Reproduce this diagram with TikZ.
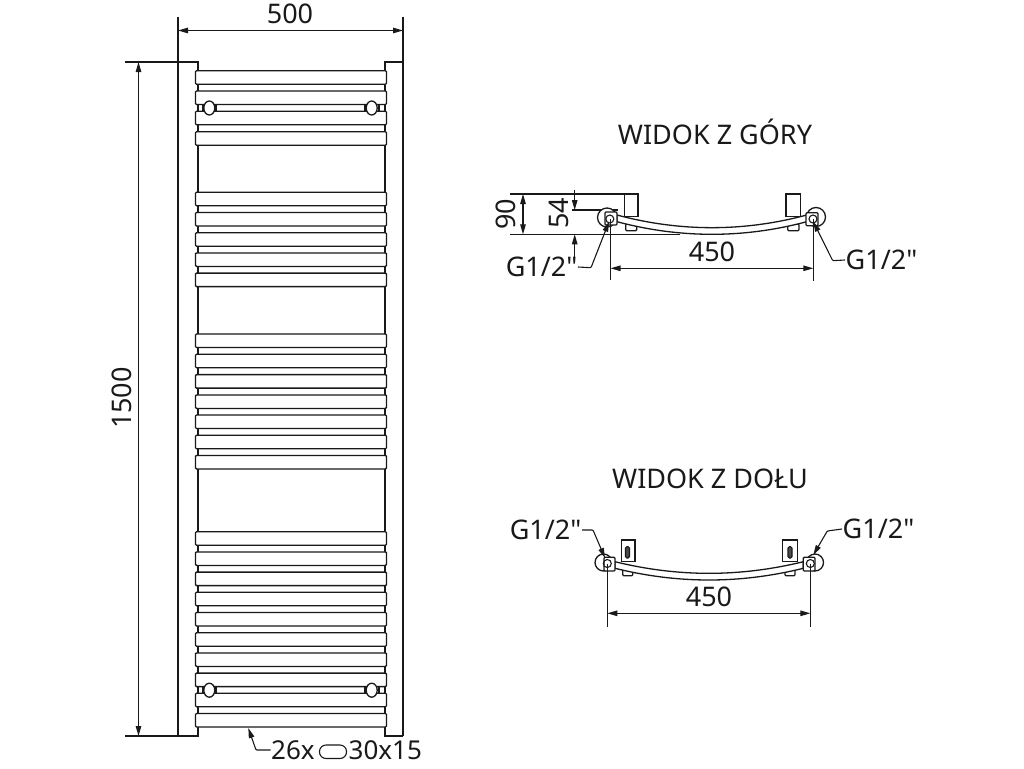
\documentclass[tikz,border=0pt]{standalone}
\usepackage{fontspec}
\newfontfamily\lblfont{Noto Sans}
\usetikzlibrary{arrows.meta}

\begin{document}
\begin{tikzpicture}[
                x=1pt, y=-1pt,
                line width=1.3pt,
                color=black!90,
                >={Stealth[length=10pt,width=5.5pt,inset=0pt]},
                dim/.style={<->, line width=1.1pt},
                ext/.style={line width=1.1pt},
                lead/.style={<-, line width=1.1pt, rounded corners=1pt},
                bar/.style={draw, fill=white, rounded corners=1pt},
                lbl/.style={inner sep=0pt, font=\lblfont\fontsize{27}{32}\selectfont},
                sizelbl/.style={inner sep=0pt, font=\lblfont\fontsize{26}{31}\selectfont}
            ]
            \useasboundingbox (0,0) rectangle (1024,768);

            % frame and rails
            \draw (125,62) -- (198,62) -- (198,736) -- (125,736);
            \draw (403,62) -- (385,62) -- (385,736) -- (403,736);
            \draw (178,17) -- (178,736);
            \draw (403,17) -- (403,736);

            % 26 bars
            \foreach \t in {70.7,91,111.3,131.7,
                            192.3,212.5,232.7,252.9,273.1,
                            334,354.3,374.6,394.9,415,435.2,455.4,
                            531.7,551.9,572.1,592.3,612.5,632.7,652.9,673.1,693.3,713.5}
                \draw[bar] (195.5,\t) rectangle (386.5,\t+13.5);

            % towel rods
            \foreach \y in {108, 690.2} {
                \draw[line width=2pt] (202.5,\y-3) -- (202.5,\y+3);
                \draw[line width=2pt] (379,\y-3) -- (379,\y+3);
                \draw[line width=2.2pt] (216,\y-3) -- (216,\y+3);
                \draw[line width=2.2pt] (365,\y-3) -- (365,\y+3);
                \draw[fill=white] (209.3,\y) ellipse (5.5 and 7);
                \draw[fill=white] (371.7,\y) ellipse (5.5 and 7);
            }

            % main dimensions
            \node[lbl] (width) at (290,14) {500};
            \node[lbl, rotate=90] (height) at (122,398) {1500};
            \coordinate (wl) at (178,30.5);
            \coordinate (wr) at (403,30.5);
            \coordinate (ht) at (138.5,62);
            \coordinate (hb) at (138.5,736);
            \draw[dim] (wl) -- (wr);
            \draw[dim] (ht) -- (hb);

            % bar size
            \node[sizelbl, anchor=west] (count) at (270.5,750) {26x};
            \node[sizelbl, anchor=west] (size) at (348,750) {30x15};
            \draw[rounded corners=6.5pt, line width=1.1pt] (319.5,745) rectangle (346.5,758.5);
            \coordinate (bartip) at (248.3,728);
            \draw[lead] (bartip) -- (256,750) -- (count.west);

            % view from above
            \node[lbl] (top) at (715,132) {WIDOK Z GÓRY};
            \coordinate (tl) at (610.5,268.3);
            \coordinate (tr) at (813.3,268.3);
            \node[lbl] (t450) at (712,252) {450};
            \node[lbl, rotate=90] (t90) at (506,214) {90};
            \node[lbl, rotate=90] (t54) at (559,213) {54};
            \node[lbl, anchor=east] (tgl) at (578,267) {G1/2"};
            \node[lbl, anchor=west] (tgr) at (845,260) {G1/2"};

            \draw[ext] (510,194) -- (638,194);
            \draw[ext] (510,234.3) -- (680,234.3);
            \draw[ext] (572,210) -- (618,210);
            \draw[fill=white] (624.3,194) rectangle (638,216.7);
            \draw[fill=white] (786,194) rectangle (800.7,216.7);
            \draw[fill=white, rounded corners=1pt] (625.7,224) rectangle (636.7,230.7);
            \draw[fill=white, rounded corners=1pt] (787.7,224) rectangle (799,230.7);
            \draw[fill=white] (617,215) .. controls (680,231.9) and (744,231.9) .. (806.7,215)
                -- (806.7,221.7) .. controls (744,238.5) and (680,238.5) .. (617,221.7) -- cycle;
            \draw[fill=white] (607,217.5) circle (9.5);
            \draw[fill=white] (816,217) circle (9.5);
            \draw[fill=white, rounded corners=1pt] (605,212) rectangle (617,225);
            \draw[fill=white, rounded corners=1pt] (806,212.7) rectangle (818,225.7);
            \draw[ext] (609.8,219) circle (4);
            \draw[ext] (813,219) circle (4);

            \coordinate (d90a) at (523,194);
            \coordinate (d90b) at (523,234.3);
            \coordinate (d54a) at (574.7,210);
            \coordinate (d54b) at (574.7,234.3);
            \draw[dim] (d90a) -- (d90b);
            \draw[ext, ->] (574.7,190) -- (d54a);
            \draw[ext, ->] (574.7,258) -- (d54b);
            \draw[ext] (610.5,219) -- (610.5,280);
            \draw[ext] (813.3,219) -- (813.3,281);
            \draw[dim] (tl) -- (tr);
            \draw[lead] (609,221.7) -- (591,267.7) -- (tgl.east);
            \draw[lead] (813.3,221.7) -- (832.7,260.7) -- (tgr.west);

            % view from below
            \node[lbl] (bottom) at (710,479) {WIDOK Z DOŁU};
            \coordinate (bl) at (607.3,613.3);
            \coordinate (br) at (810.3,613.3);
            \node[lbl] (b450) at (709,597) {450};
            \node[lbl, anchor=east] (bgl) at (582,530) {G1/2"};
            \node[lbl, anchor=west] (bgr) at (842,529) {G1/2"};

            \draw[fill=white] (621.7,540) rectangle (635,561.7);
            \draw[fill=white] (782.7,540) rectangle (797.3,561.7);
            \draw[ext, fill=black!70, rounded corners=1.5pt] (625.5,546.7) rectangle (629.5,558);
            \draw[ext, fill=black!70, rounded corners=1.5pt] (788,546.7) rectangle (792,558);
            \draw[fill=white, rounded corners=1pt] (622.7,569) rectangle (632.7,575.7);
            \draw[fill=white, rounded corners=1pt] (785,569) rectangle (795,575.7);
            \draw[fill=white] (615,561.7) .. controls (678,577.2) and (740,577.2) .. (803.3,561.7)
                -- (803.3,568.3) .. controls (740,583.9) and (678,583.9) .. (615,568.3) -- cycle;
            \draw[fill=white] (603.5,562.5) circle (8.5);
            \draw[fill=white] (815,562.5) circle (8.5);
            \draw[fill=white, rounded corners=1pt] (604,557.3) rectangle (615,571);
            \draw[fill=white, rounded corners=1pt] (803.3,557.3) rectangle (815,571);
            \draw[ext] (607.3,563.5) circle (4);
            \draw[ext] (810.3,563.5) circle (4);

            \draw[ext] (607.3,563.5) -- (607.3,627);
            \draw[ext] (810.3,563.5) -- (810.3,627);
            \draw[dim] (bl) -- (br);
            \draw[lead] (605,558) -- (593,530) -- (bgl.east);
            \draw[lead] (813.3,555) -- (827.3,531) -- (bgr.west);
        \end{tikzpicture}
\end{document}
